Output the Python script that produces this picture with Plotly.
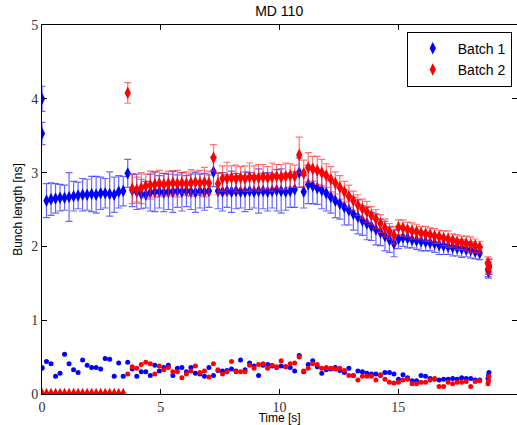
import plotly.graph_objects as go

# ---------------- data ----------------
t1 = [0.00, 0.00, 0.19, 0.38, 0.57, 0.76, 0.95, 1.14, 1.33, 1.52, 1.71, 1.90, 2.09, 2.28, 2.47,
      2.66, 2.85, 3.04, 3.23, 3.42, 3.61, 3.80, 3.99, 4.18, 4.37, 4.56, 4.75, 4.94, 5.13, 5.32,
      5.51, 5.70, 5.89, 6.08, 6.27, 6.46, 6.65, 6.84, 7.03, 7.22, 7.41, 7.60, 7.79, 7.98, 8.17,
      8.36, 8.55, 8.74, 8.93, 9.12, 9.31, 9.50, 9.69, 9.88, 10.07, 10.26, 10.45, 10.64, 10.83,
      11.02, 11.21, 11.40, 11.59, 11.78, 11.97, 12.16, 12.35, 12.54, 12.73, 12.92, 13.11, 13.30,
      13.49, 13.68, 13.87, 14.06, 14.25, 14.44, 14.63, 14.82, 15.01, 15.20, 15.39, 15.58, 15.77,
      15.96, 16.15, 16.34, 16.53, 16.72, 16.91, 17.10, 17.29, 17.48, 17.67, 17.86, 18.05, 18.24,
      18.43, 18.78, 18.80, 18.82]

batch1_len = [4.00, 3.53, 2.62, 2.64, 2.65, 2.66, 2.66, 2.67, 2.68, 2.69, 2.70, 2.70, 2.71, 2.70, 2.72,
              2.72, 2.71, 2.70, 2.74, 2.75, 2.99, 2.76, 2.74, 2.71, 2.70, 2.73, 2.74, 2.74, 2.73, 2.74,
              2.74, 2.75, 2.74, 2.75, 2.74, 2.73, 2.75, 2.74, 2.75, 3.01, 2.75, 2.74, 2.75, 2.74, 2.75,
              2.74, 2.74, 2.75, 2.74, 2.75, 2.75, 2.74, 2.75, 2.76, 2.75, 2.74, 2.75, 2.77, 3.00,
              2.74, 2.84, 2.82, 2.79, 2.76, 2.72, 2.67, 2.62, 2.58, 2.53, 2.49, 2.44, 2.40,
              2.35, 2.31, 2.27, 2.23, 2.19, 2.14, 2.09, 2.04, 2.10, 2.12, 2.11, 2.09, 2.08,
              2.07, 2.06, 2.05, 2.04, 2.02, 2.01, 2.00, 1.99, 1.98, 1.97, 1.96, 1.95, 1.93,
              1.91, 1.69, 1.66, 1.72]

batch1_err = [0.17, 0.15, 0.23, 0.22, 0.20, 0.18, 0.17, 0.33, 0.20, 0.18, 0.22, 0.21, 0.24, 0.25, 0.22,
              0.20, 0.30, 0.24, 0.22, 0.20, 0.19, 0.22, 0.24, 0.20, 0.18, 0.25, 0.27, 0.22, 0.26, 0.24,
              0.28, 0.22, 0.26, 0.21, 0.24, 0.27, 0.23, 0.25, 0.22, 0.20, 0.24, 0.26, 0.22, 0.28, 0.24,
              0.22, 0.27, 0.25, 0.22, 0.30, 0.24, 0.26, 0.23, 0.28, 0.30, 0.25, 0.22, 0.24, 0.20,
              0.22, 0.26, 0.24, 0.22, 0.25, 0.24, 0.22, 0.23, 0.21, 0.24, 0.20, 0.22, 0.23,
              0.20, 0.22, 0.19, 0.21, 0.18, 0.20, 0.17, 0.18, 0.13, 0.12, 0.13, 0.11, 0.12,
              0.13, 0.12, 0.11, 0.12, 0.13, 0.12, 0.11, 0.12, 0.11, 0.12, 0.10, 0.11, 0.10,
              0.09, 0.10, 0.09, 0.10]

batch1_spread = [0.35, 0.36, 0.44, 0.41, 0.24, 0.28, 0.54, 0.41, 0.33, 0.29, 0.46, 0.39, 0.36, 0.36, 0.34,
                 0.48, 0.47, 0.24, 0.42, 0.24, 0.43, 0.34, 0.24, 0.30, 0.30, 0.25, 0.39, 0.31, 0.36, 0.39,
                 0.25, 0.35, 0.36, 0.30, 0.36, 0.28, 0.27, 0.24, 0.36, 0.25, 0.32, 0.31, 0.32, 0.34, 0.31,
                 0.46, 0.33, 0.42, 0.38, 0.25, 0.39, 0.40, 0.38, 0.36, 0.38, 0.37, 0.36, 0.31, 0.52,
                 0.30, 0.40, 0.45, 0.37, 0.28, 0.33, 0.34, 0.36, 0.32, 0.29, 0.35, 0.25, 0.31,
                 0.30, 0.28, 0.27, 0.27, 0.25, 0.29, 0.29, 0.27, 0.20, 0.26, 0.22, 0.18, 0.18,
                 0.25, 0.24, 0.21, 0.20, 0.19, 0.20, 0.20, 0.21, 0.20, 0.22, 0.21, 0.21, 0.19,
                 0.19, 0.21, 0.25, 0.29]

t2 = [0.00, 0.19, 0.38, 0.57, 0.76, 0.95, 1.14, 1.33, 1.52, 1.71, 1.90, 2.09, 2.28, 2.47,
      2.66, 2.85, 3.04, 3.23, 3.42, 3.61, 3.80, 3.99, 4.18, 4.37, 4.56, 4.75, 4.94, 5.13, 5.32,
      5.51, 5.70, 5.89, 6.08, 6.27, 6.46, 6.65, 6.84, 7.03, 7.22, 7.41, 7.60, 7.79, 7.98, 8.17,
      8.36, 8.55, 8.74, 8.93, 9.12, 9.31, 9.50, 9.69, 9.88, 10.07, 10.26, 10.45, 10.64, 10.83,
      11.02, 11.21, 11.40, 11.59, 11.78, 11.97, 12.16, 12.35, 12.54, 12.73, 12.92, 13.11, 13.30,
      13.49, 13.68, 13.87, 14.06, 14.25, 14.44, 14.63, 14.82, 15.01, 15.20, 15.39, 15.58, 15.77,
      15.96, 16.15, 16.34, 16.53, 16.72, 16.91, 17.10, 17.29, 17.48, 17.67, 17.86, 18.05, 18.24,
      18.43, 18.78, 18.80, 18.82]

batch2_len = [0.00, 0.00, 0.00, 0.00, 0.00, 0.00, 0.00, 0.00, 0.00, 0.00, 0.00, 0.00, 0.00, 0.00,
              0.00, 0.00, 0.00, 0.00, 0.00, 4.08, 2.78, 2.77, 2.79, 2.82, 2.83, 2.84, 2.85, 2.84, 2.85,
              2.86, 2.85, 2.86, 2.85, 2.86, 2.87, 2.86, 2.87, 2.86, 3.20, 2.85, 2.92, 2.92, 2.93, 2.92,
              2.93, 2.92, 2.94, 2.93, 2.93, 2.94, 2.93, 2.94, 2.95, 2.94, 2.95, 2.96, 2.95, 3.24,
              2.99, 3.07, 3.05, 3.03, 3.00, 2.96, 2.91, 2.86, 2.80, 2.74, 2.68, 2.62, 2.56,
              2.51, 2.47, 2.42, 2.37, 2.31, 2.25, 2.20, 2.15, 2.26, 2.25, 2.23, 2.21, 2.20,
              2.18, 2.17, 2.16, 2.14, 2.13, 2.11, 2.10, 2.08, 2.06, 2.05, 2.04, 2.02, 2.01,
              1.99, 1.77, 1.70, 1.74]

batch2_err = [0.00, 0.00, 0.00, 0.00, 0.00, 0.00, 0.00, 0.00, 0.00, 0.00, 0.00, 0.00, 0.00, 0.00,
              0.00, 0.00, 0.00, 0.00, 0.00, 0.14, 0.20, 0.17, 0.21, 0.16, 0.19, 0.17, 0.18, 0.15, 0.17,
              0.16, 0.18, 0.14, 0.16, 0.18, 0.15, 0.17, 0.20, 0.16, 0.18, 0.15, 0.17, 0.22, 0.16, 0.18,
              0.15, 0.17, 0.19, 0.16, 0.18, 0.17, 0.15, 0.19, 0.16, 0.17, 0.18, 0.16, 0.15, 0.24,
              0.18, 0.20, 0.17, 0.19, 0.18, 0.16, 0.17, 0.15, 0.16, 0.14, 0.15, 0.13, 0.14,
              0.13, 0.14, 0.12, 0.13, 0.12, 0.12, 0.11, 0.12, 0.10, 0.11, 0.10, 0.11, 0.10,
              0.09, 0.10, 0.09, 0.10, 0.09, 0.10, 0.11, 0.09, 0.10, 0.09, 0.10, 0.11, 0.09,
              0.08, 0.09, 0.08, 0.10]

batch2_spread = [0.00, 0.00, 0.00, 0.00, 0.00, 0.00, 0.00, 0.00, 0.00, 0.00, 0.00, 0.00, 0.00, 0.00,
                 0.00, 0.00, 0.00, 0.00, 0.00, 0.27, 0.37, 0.35, 0.40, 0.43, 0.41, 0.27, 0.38, 0.33, 0.36,
                 0.30, 0.30, 0.22, 0.27, 0.31, 0.38, 0.29, 0.31, 0.23, 0.41, 0.33, 0.27, 0.30, 0.44, 0.30,
                 0.30, 0.30, 0.39, 0.35, 0.40, 0.41, 0.35, 0.39, 0.37, 0.45, 0.37, 0.41, 0.42, 0.50,
                 0.31, 0.35, 0.41, 0.40, 0.35, 0.36, 0.35, 0.34, 0.35, 0.32, 0.25, 0.25, 0.19,
                 0.24, 0.24, 0.24, 0.19, 0.26, 0.20, 0.16, 0.15, 0.16, 0.19, 0.20, 0.14, 0.14,
                 0.16, 0.16, 0.19, 0.21, 0.10, 0.10, 0.16, 0.14, 0.16, 0.16, 0.17, 0.10, 0.17,
                 0.18, 0.14, 0.18, 0.24]

x_ticks = [0, 5, 10, 15, 20]
y_ticks = [0, 1, 2, 3, 4, 5]

BLUE = "#0000ff"
RED = "#ff0000"

fig = go.Figure()

fig.add_trace(go.Scatter(
    x=t1, y=batch1_len, mode="markers", name="Batch 1",
    marker=dict(symbol="diamond-tall", size=9, color=BLUE),
    error_y=dict(type="data", array=batch1_err, visible=True,
                 color="rgba(40,40,255,0.7)", thickness=1.2, width=3.5),
))
fig.add_trace(go.Scatter(
    x=t2, y=batch2_len, mode="markers", name="Batch 2",
    marker=dict(symbol="diamond-tall", size=9, color=RED),
    error_y=dict(type="data", array=batch2_err, visible=True,
                 color="rgba(255,40,40,0.65)", thickness=1.2, width=3.5),
))
fig.add_trace(go.Scatter(
    x=t1, y=batch1_spread, mode="markers", showlegend=False,
    marker=dict(symbol="circle", size=5, color=BLUE),
))
fig.add_trace(go.Scatter(
    x=t2[19:], y=batch2_spread[19:], mode="markers", showlegend=False,
    marker=dict(symbol="circle", size=5, color=RED),
))

tick_font = dict(family="Liberation Serif, DejaVu Serif, serif", size=14, color="#333333")
axis_common = dict(showline=True, linecolor="black", linewidth=1, mirror="ticks",
                   ticks="inside", ticklen=5, tickcolor="black", showgrid=False,
                   zeroline=False, tickfont=tick_font, automargin=False)

fig.update_layout(
    width=517, height=425,
    margin=dict(l=42, r=0, t=25, b=31, autoexpand=False),
    paper_bgcolor="white", plot_bgcolor="white",
    title=dict(text="MD 110", x=0.54, xanchor="center", y=0.985, yanchor="top",
               font=dict(family="Liberation Sans, Arial, sans-serif", size=14, color="black")),
    xaxis=dict(range=[0, 20], tickvals=x_ticks, ticktext=[str(v) for v in x_ticks],
               title=dict(text="Time [s]", standoff=0,
                          font=dict(family="Liberation Sans, Arial, sans-serif", size=12, color="black")),
               **axis_common),
    yaxis=dict(range=[0, 5], tickvals=y_ticks, ticktext=[str(v) for v in y_ticks],
               title=dict(text="Bunch length [ns]", standoff=6,
                          font=dict(family="Liberation Sans, Arial, sans-serif", size=12, color="black")),
               **axis_common),
    legend=dict(x=0.989, y=0.982, xanchor="right", yanchor="top",
                bgcolor="white", bordercolor="black", borderwidth=1,
                font=dict(family="Liberation Sans, Arial, sans-serif", size=14, color="black"),
                itemwidth=40, tracegroupgap=0),
    showlegend=True,
)

fig.write_html("out.html", config={"displayModeBar": False},
               post_script="document.body.style.margin='0';document.body.style.overflow='hidden';")
